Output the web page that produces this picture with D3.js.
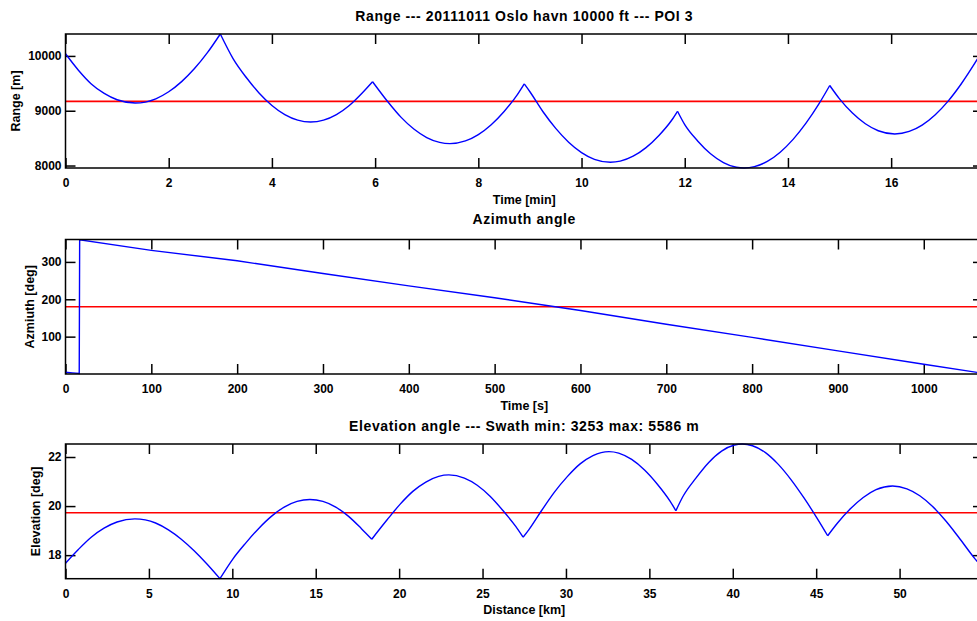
<!DOCTYPE html>
<html>
<head>
<meta charset="utf-8">
<script src="https://cdn.jsdelivr.net/npm/d3@7"></script>
<style>
body { margin: 0; background: #fff; }
svg { display: block; background: #fff; font-family: "Liberation Sans", Arial, sans-serif; font-weight: bold; }
.frame { fill: none; stroke: #000; stroke-width: 1.5; }
.axis path { display: none; }
.axis line { stroke: #000; stroke-width: 1.5; }
.axis text { font-family: "Liberation Sans", Arial, sans-serif; font-size: 12px; font-weight: bold; fill: #000; }
.title { font-size: 14px; letter-spacing: 0.6px; fill: #000; }
.label { font-size: 12.5px; fill: #000; }
.curve { fill: none; stroke: #0000ff; stroke-width: 1.4; }
.mean { stroke: #ff0000; stroke-width: 1.6; }
</style>
</head>
<body>
<div id="chart"></div>
<script>
// Range vs time [min], cusps where the track turns
var rangeTime = [0, 0.25, 0.5, 0.75, 1.0, 1.35, 1.75, 2.0, 2.25, 2.5, 2.75, 3.0,
    3.25, 3.5, 3.75, 4.0, 4.25, 4.5, 4.75, 5.0, 5.25, 5.5, 5.75, 5.95,
    6.25, 6.5, 6.75, 7.0, 7.25, 7.45, 7.75, 8.0, 8.25, 8.5, 8.75, 8.89,
    9.0, 9.25, 9.5, 9.75, 10.0, 10.25, 10.56, 10.75, 11.0, 11.25, 11.5, 11.75, 11.86,
    12.0, 12.25, 12.5, 12.75, 13.0, 13.15, 13.35, 13.6, 13.85, 14.1, 14.35, 14.6, 14.81,
    15.0, 15.25, 15.5, 15.75, 16.07, 16.35, 16.6, 16.85, 17.1, 17.35, 17.67, 17.78];
var rangeValue = [10040, 9740, 9489, 9316, 9200, 9140, 9218, 9346, 9531, 9769, 10059, 10400,
    9947, 9610, 9325, 9097, 8930, 8829, 8795, 8829, 8930, 9097, 9325, 9530,
    9159, 8883, 8666, 8511, 8422, 8400, 8449, 8565, 8745, 8987, 9284, 9490,
    9346, 8986, 8678, 8426, 8237, 8114, 8060, 8080, 8170, 8327, 8549, 8831, 8990,
    8746, 8449, 8216, 8055, 7968, 7955, 7979, 8075, 8243, 8477, 8773, 9124, 9460,
    9216, 8958, 8762, 8635, 8576, 8622, 8738, 8922, 9171, 9479, 9940, 10110];
var rangeCusps = [3.0, 5.95, 8.89, 11.86, 14.81];
var rangeMean = 9170;
var rangeTicks = [8000, 9000, 10000];
var timeMinTicks = [0, 2, 4, 6, 8, 10, 12, 14, 16];

// Azimuth vs time [s]
var aziTime = [0, 8, 16, 16.5, 100, 200, 300, 400, 500, 600, 700, 800, 900, 1000, 1069];
var aziValue = [4.5, 3, 1.5, 359.5, 331, 303, 269, 236, 204, 170, 133, 98, 62, 26, 2];
var aziMean = 180;
var aziTicks = [100, 200, 300];
var timeSecTicks = [0, 100, 200, 300, 400, 500, 600, 700, 800, 900, 1000];

// Elevation vs distance [km]
var elevDist = [0, 0.77, 1.54, 2.31, 3.09, 4.16, 5.40, 6.17, 6.94, 7.71, 8.48, 9.26,
    10.03, 10.80, 11.57, 12.34, 13.11, 13.88, 14.65, 15.43, 16.20, 16.97, 17.74, 18.36,
    19.28, 20.05, 20.82, 21.60, 22.37, 22.98, 23.91, 24.68, 25.45, 26.22, 26.99, 27.43,
    27.77, 28.54, 29.31, 30.08, 30.85, 31.62, 32.58, 33.16, 33.94, 34.71, 35.48, 36.25, 36.59,
    37.02, 37.79, 38.56, 39.33, 40.10, 40.57, 41.18, 41.96, 42.73, 43.50, 44.27, 45.04, 45.69,
    46.28, 47.05, 47.82, 48.59, 49.58, 50.44, 51.21, 51.98, 52.75, 53.52, 54.51, 55.0];
var elevValue = [17.67, 18.23, 18.73, 19.10, 19.35, 19.48, 19.31, 19.03, 18.65, 18.18, 17.64, 17.04,
    17.84, 18.49, 19.08, 19.58, 19.96, 20.19, 20.27, 20.19, 19.96, 19.58, 19.08, 18.65,
    19.44, 20.07, 20.60, 20.98, 21.21, 21.27, 21.14, 20.85, 20.40, 19.82, 19.17, 18.73,
    19.03, 19.82, 20.57, 21.20, 21.72, 22.06, 22.22, 22.16, 21.90, 21.47, 20.89, 20.19, 19.81,
    20.40, 21.14, 21.78, 22.24, 22.49, 22.53, 22.46, 22.18, 21.70, 21.07, 20.33, 19.52, 18.79,
    19.31, 19.89, 20.35, 20.67, 20.82, 20.70, 20.42, 19.98, 19.41, 18.75, 17.86, 17.48];
var elevCusps = [9.26, 18.36, 27.43, 36.59, 45.69];
var elevMean = 19.73;
var elevTicks = [18, 20, 22];
var distTicks = [0, 5, 10, 15, 20, 25, 30, 35, 40, 45, 50];

function init() {
    var w = 977;
    var h = 621;
    var left = 65.5;
    var right = 983; // plot box runs a bit past the window edge
    var fmt = d3.format("d"); // no thousands comma

    var svg = d3.select("#chart")
                .append("svg")
                .attr("width", w)
                .attr("height", h);

    //split a series into pieces at the cusp x values, cusp point shared
    function split(xs, ys, cusps) {
        var segs = [];
        var cur = [];
        for (var i = 0; i < xs.length; i++) {
            cur.push([xs[i], ys[i]]);
            if (cusps.indexOf(xs[i]) >= 0) {
                segs.push(cur);
                cur = [[xs[i], ys[i]]];
            }
        }
        segs.push(cur);
        return segs;
    }

    function panel(p) {
        var g = svg.append("g");

        var xScale = d3.scaleLinear()
                .domain(p.xDomain)
                .range([left, right]);
        var yScale = d3.scaleLinear()
                .domain(p.yDomain)
                .range([p.bottom, p.top]);

        //ticks point inward on all four sides
        g.append("g")
            .attr("class", "axis")
            .attr("transform", "translate(0," + p.bottom + ")")
            .call(d3.axisBottom(xScale).tickValues(p.xTicks).tickFormat(fmt)
                .tickSizeInner(-10).tickSizeOuter(0).tickPadding(10.5));
        g.append("g")
            .attr("class", "axis")
            .attr("transform", "translate(0," + p.top + ")")
            .call(d3.axisTop(xScale).tickValues(p.xTicks).tickSizeInner(-10).tickSizeOuter(0).tickFormat(""));
        g.append("g")
            .attr("class", "axis")
            .attr("transform", "translate(" + left + ",0)")
            .call(d3.axisLeft(yScale).tickValues(p.yTicks).tickFormat(fmt)
                .tickSizeInner(-10).tickSizeOuter(0).tickPadding(4));
        g.append("g")
            .attr("class", "axis")
            .attr("transform", "translate(" + right + ",0)")
            .call(d3.axisRight(yScale).tickValues(p.yTicks).tickSizeInner(-10).tickSizeOuter(0).tickFormat(""));

        //mean line
        g.append("line")
            .attr("class", "mean")
            .attr("x1", left)
            .attr("x2", right)
            .attr("y1", yScale(p.mean))
            .attr("y2", yScale(p.mean));

        var line = d3.line()
                .x(function(d) { return xScale(d[0]); })
                .y(function(d) { return yScale(d[1]); })
                .curve(p.curve);

        g.selectAll("path.curve")
            .data(split(p.xs, p.ys, p.cusps))
            .enter()
            .append("path")
            .attr("class", "curve")
            .attr("d", line);

        g.append("rect")
            .attr("class", "frame")
            .attr("x", left)
            .attr("y", p.top)
            .attr("width", right - left)
            .attr("height", p.bottom - p.top);

        g.append("text")
            .attr("class", "title")
            .attr("x", (left + right) / 2)
            .attr("y", p.titleY)
            .attr("text-anchor", "middle")
            .text(p.title);

        g.append("text")
            .attr("class", "label")
            .attr("x", (left + right) / 2)
            .attr("y", p.xLabelY)
            .attr("text-anchor", "middle")
            .text(p.xLabel);

        g.append("text")
            .attr("class", "label")
            .attr("transform", "translate(" + p.yLabelX + "," + (p.top + p.bottom) / 2 + ") rotate(-90)")
            .attr("text-anchor", "middle")
            .text(p.yLabel);
    }

    panel({
        top: 34, bottom: 168,
        xDomain: [0, 17.78], yDomain: d3.extent(rangeValue),
        xTicks: timeMinTicks, yTicks: rangeTicks,
        xs: rangeTime, ys: rangeValue, cusps: rangeCusps, curve: d3.curveMonotoneX,
        mean: rangeMean,
        title: "Range --- 20111011 Oslo havn 10000 ft --- POI 3", titleY: 21,
        xLabel: "Time [min]", xLabelY: 204,
        yLabel: "Range [m]", yLabelX: 20
    });

    panel({
        top: 239.5, bottom: 374,
        xDomain: [0, 1069], yDomain: [0, 360],
        xTicks: timeSecTicks, yTicks: aziTicks,
        xs: aziTime, ys: aziValue, cusps: [], curve: d3.curveLinear,
        mean: aziMean,
        title: "Azimuth angle", titleY: 224,
        xLabel: "Time [s]", xLabelY: 410,
        yLabel: "Azmiuth [deg]", yLabelX: 34
    });

    panel({
        top: 444, bottom: 578.7,
        xDomain: [0, 55.0], yDomain: d3.extent(elevValue),
        xTicks: distTicks, yTicks: elevTicks,
        xs: elevDist, ys: elevValue, cusps: elevCusps, curve: d3.curveMonotoneX,
        mean: elevMean,
        title: "Elevation angle --- Swath min: 3253 max: 5586 m", titleY: 431,
        xLabel: "Distance [km]", xLabelY: 614,
        yLabel: "Elevation [deg]", yLabelX: 40
    });
}
window.onload = init;
</script>
</body>
</html>
